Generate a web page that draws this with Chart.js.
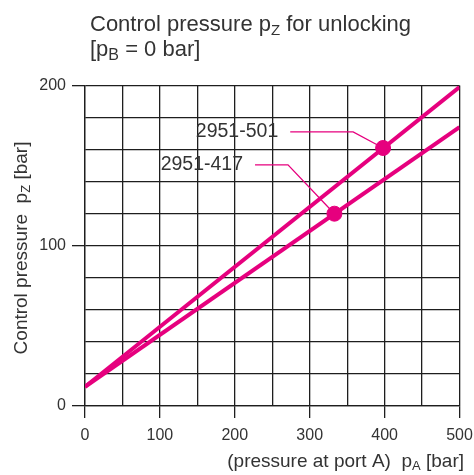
<!DOCTYPE html>
<html>
<head>
<meta charset="utf-8">
<script src="https://cdn.jsdelivr.net/npm/chart.js@4"></script>
<style>
  body { margin: 0; background: #fff; }
  canvas { display: block; }
</style>
</head>
<body>
<canvas id="chart" width="474" height="475"></canvas>
<script>
// pressure at port A [bar]
const pressureA = [0, 500];
// control pressure pZ [bar]
const pz501 = [12, 199];
const pz417 = [12, 174];

// marked points on each curve
const markA = [398, 333];
const markZ = [161, 120];

// callout labels and their leader lines (data units)
const labelNames = ['2951-501', '2951-417'];
const labelX = [258, 211];
const labelY = [171, 150.5];
const leader501X = [274, 358, 398];
const leader501Y = [171, 171, 161];
const leader417X = [227, 271, 333];
const leader417Y = [150.5, 150.5, 120];

const xTicks = [0, 100, 200, 300, 400, 500];
const yTicks = [0, 100, 200];

const MAGENTA = '#e6007e';
const INK = '#333';
const GRID = '#1e1e1e';
const FONT = '"Liberation Sans", Arial, sans-serif';

const toPoints = (xs, ys) => xs.map((x, i) => ({ x: x, y: ys[i] }));

// text with subscripts: parts = [[text, isSub], ...]
function drawRich(ctx, parts, x, y, size, subSize, align) {
  ctx.textBaseline = 'alphabetic';
  let total = 0;
  parts.forEach(p => {
    ctx.font = (p[1] ? subSize : size) + 'px ' + FONT;
    total += ctx.measureText(p[0]).width;
  });
  let cx = align === 'right' ? x - total : (align === 'center' ? x - total / 2 : x);
  ctx.textAlign = 'left';
  parts.forEach(p => {
    ctx.font = (p[1] ? subSize : size) + 'px ' + FONT;
    ctx.fillText(p[0], cx, y + (p[1] ? size * 0.16 : 0));
    cx += ctx.measureText(p[0]).width;
  });
}

const annotations = {
  id: 'annotations',
  afterDatasetsDraw(chart) {
    const ctx = chart.ctx;
    const xs = chart.scales.x, ys = chart.scales.y;
    ctx.save();
    ctx.fillStyle = INK;
    ctx.font = '19.5px ' + FONT;
    ctx.textAlign = 'right';
    ctx.textBaseline = 'middle';
    labelNames.forEach((name, i) => {
      ctx.fillText(name, xs.getPixelForValue(labelX[i]), ys.getPixelForValue(labelY[i]));
    });
    ctx.restore();
  },
  afterDraw(chart) {
    const ctx = chart.ctx;
    ctx.save();
    ctx.fillStyle = INK;
    drawRich(ctx, [['Control pressure p', false], ['Z', true], [' for unlocking', false]], 90, 31, 22, 15, 'left');
    drawRich(ctx, [['[p', false], ['B', true], [' = 0 bar]', false]], 90, 56, 22, 16, 'left');
    drawRich(ctx, [['(pressure at port A)  p', false], ['A', true], [' [bar]', false]], 464, 467, 19, 13, 'right');
    ctx.translate(27, 248);
    ctx.rotate(-Math.PI / 2);
    drawRich(ctx, [['Control pressure  p', false], ['Z', true], [' [bar]', false]], 0, 0, 19, 13, 'center');
    ctx.restore();
  }
};

new Chart(document.getElementById('chart'), {
  type: 'scatter',
  data: {
    datasets: [
      {
        data: toPoints(markA, markZ),
        backgroundColor: MAGENTA,
        borderColor: MAGENTA,
        pointRadius: 7.5,
        pointHoverRadius: 7.5,
        showLine: false
      },
      {
        data: toPoints(pressureA, pz501),
        borderColor: MAGENTA,
        borderWidth: 4,
        pointRadius: 0,
        showLine: true
      },
      {
        data: toPoints(pressureA, pz417),
        borderColor: MAGENTA,
        borderWidth: 4,
        pointRadius: 0,
        showLine: true
      },
      {
        data: toPoints(leader501X, leader501Y),
        borderColor: MAGENTA,
        borderWidth: 1.3,
        pointRadius: 0,
        showLine: true
      },
      {
        data: toPoints(leader417X, leader417Y),
        borderColor: MAGENTA,
        borderWidth: 1.3,
        pointRadius: 0,
        showLine: true
      }
    ]
  },
  options: {
    responsive: false,
    animation: false,
    devicePixelRatio: 1,
    layout: { padding: { top: 85.5, right: 14.5, left: 0, bottom: 0 } },
    plugins: { legend: { display: false }, tooltip: { enabled: false } },
    scales: {
      x: {
        type: 'linear',
        min: 0,
        max: 500,
        afterFit: s => { s.height = 69; s.paddingLeft = 0; s.paddingRight = 0; },
        ticks: {
          stepSize: 50,
          autoSkip: false,
          maxRotation: 0,
          padding: 8,
          color: INK,
          font: { family: FONT, size: 16 },
          callback: v => xTicks.includes(v) ? v : ''
        },
        grid: {
          color: GRID,
          lineWidth: 1.3,
          tickLength: 12,
          tickColor: c => xTicks.includes(c.tick.value) ? GRID : 'rgba(0,0,0,0)'
        },
        border: { color: GRID, width: 1.3 }
      },
      y: {
        min: 0,
        max: 200,
        afterFit: s => { s.width = 85; s.paddingTop = 0; s.paddingBottom = 0; },
        ticks: {
          stepSize: 20,
          autoSkip: false,
          padding: 6,
          color: INK,
          font: { family: FONT, size: 16 },
          callback: v => yTicks.includes(v) ? v : ''
        },
        grid: {
          color: GRID,
          lineWidth: 1.3,
          tickLength: 13,
          tickColor: c => yTicks.includes(c.tick.value) ? GRID : 'rgba(0,0,0,0)'
        },
        border: { color: GRID, width: 1.3 }
      }
    }
  },
  plugins: [annotations]
});
</script>
</body>
</html>
